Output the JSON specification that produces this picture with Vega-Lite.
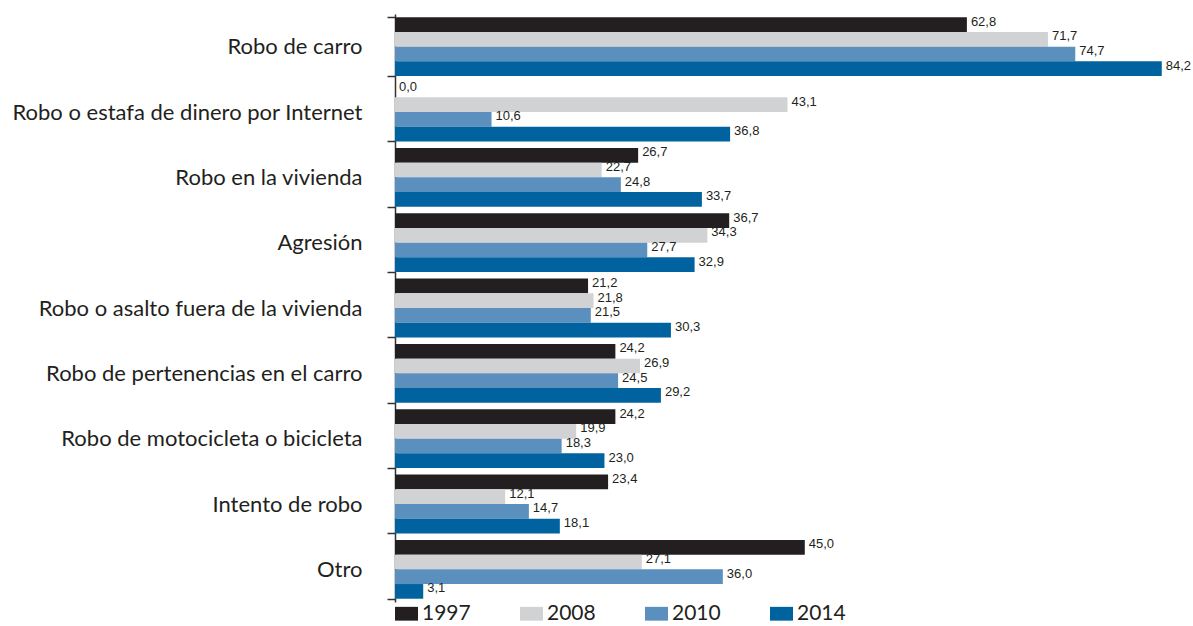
{
  "$schema": "https://vega.github.io/schema/vega-lite/v6.json",
  "width": 795,
  "height": 588,
  "autosize": {"type": "none"},
  "padding": {"left": 395, "top": 14, "right": 3, "bottom": 24},
  "background": "white",
  "config": {
    "view": {"stroke": null},
    "locale": {"number": {"decimal": ",", "thousands": ".", "grouping": [3], "currency": ["", ""]}}
  },
  "data": {
    "values": [
      {"categoria": "Robo de carro", "anio": "1997", "valor": 62.8},
      {"categoria": "Robo de carro", "anio": "2008", "valor": 71.7},
      {"categoria": "Robo de carro", "anio": "2010", "valor": 74.7},
      {"categoria": "Robo de carro", "anio": "2014", "valor": 84.2},
      {"categoria": "Robo o estafa de dinero por Internet", "anio": "1997", "valor": 0.0},
      {"categoria": "Robo o estafa de dinero por Internet", "anio": "2008", "valor": 43.1},
      {"categoria": "Robo o estafa de dinero por Internet", "anio": "2010", "valor": 10.6},
      {"categoria": "Robo o estafa de dinero por Internet", "anio": "2014", "valor": 36.8},
      {"categoria": "Robo en la vivienda", "anio": "1997", "valor": 26.7},
      {"categoria": "Robo en la vivienda", "anio": "2008", "valor": 22.7},
      {"categoria": "Robo en la vivienda", "anio": "2010", "valor": 24.8},
      {"categoria": "Robo en la vivienda", "anio": "2014", "valor": 33.7},
      {"categoria": "Agresión", "anio": "1997", "valor": 36.7},
      {"categoria": "Agresión", "anio": "2008", "valor": 34.3},
      {"categoria": "Agresión", "anio": "2010", "valor": 27.7},
      {"categoria": "Agresión", "anio": "2014", "valor": 32.9},
      {"categoria": "Robo o asalto fuera de la vivienda", "anio": "1997", "valor": 21.2},
      {"categoria": "Robo o asalto fuera de la vivienda", "anio": "2008", "valor": 21.8},
      {"categoria": "Robo o asalto fuera de la vivienda", "anio": "2010", "valor": 21.5},
      {"categoria": "Robo o asalto fuera de la vivienda", "anio": "2014", "valor": 30.3},
      {"categoria": "Robo de pertenencias en el carro", "anio": "1997", "valor": 24.2},
      {"categoria": "Robo de pertenencias en el carro", "anio": "2008", "valor": 26.9},
      {"categoria": "Robo de pertenencias en el carro", "anio": "2010", "valor": 24.5},
      {"categoria": "Robo de pertenencias en el carro", "anio": "2014", "valor": 29.2},
      {"categoria": "Robo de motocicleta o bicicleta", "anio": "1997", "valor": 24.2},
      {"categoria": "Robo de motocicleta o bicicleta", "anio": "2008", "valor": 19.9},
      {"categoria": "Robo de motocicleta o bicicleta", "anio": "2010", "valor": 18.3},
      {"categoria": "Robo de motocicleta o bicicleta", "anio": "2014", "valor": 23.0},
      {"categoria": "Intento de robo", "anio": "1997", "valor": 23.4},
      {"categoria": "Intento de robo", "anio": "2008", "valor": 12.1},
      {"categoria": "Intento de robo", "anio": "2010", "valor": 14.7},
      {"categoria": "Intento de robo", "anio": "2014", "valor": 18.1},
      {"categoria": "Otro", "anio": "1997", "valor": 45.0},
      {"categoria": "Otro", "anio": "2008", "valor": 27.1},
      {"categoria": "Otro", "anio": "2010", "valor": 36.0},
      {"categoria": "Otro", "anio": "2014", "valor": 3.1}
    ]
  },
  "encoding": {
    "y": {
      "field": "categoria",
      "type": "nominal",
      "sort": null,
      "scale": {"paddingInner": 0.1, "paddingOuter": 0.05},
      "axis": {
        "title": null,
        "tickBand": "extent",
        "tickSize": 8,
        "tickColor": "#333333",
        "tickWidth": 1.5,
        "domainColor": "#333333",
        "domainWidth": 1.5,
        "labelFont": "Lato",
        "labelFontSize": 22,
        "labelColor": "#231f20",
        "labelPadding": 25,
        "labelLimit": 400
      }
    },
    "yOffset": {"field": "anio", "type": "nominal", "sort": ["1997", "2008", "2010", "2014"]},
    "x": {
      "field": "valor",
      "type": "quantitative",
      "scale": {"domain": [0, 87.3], "nice": false},
      "axis": null
    }
  },
  "layer": [
    {
      "mark": {"type": "bar"},
      "encoding": {
        "color": {
          "field": "anio",
          "type": "nominal",
          "scale": {
            "domain": ["1997", "2008", "2010", "2014"],
            "range": ["#231f20", "#d1d2d4", "#5b8fbe", "#0063a0"]
          },
          "legend": {
            "title": null,
            "orient": "none",
            "legendX": 0,
            "legendY": 588,
            "direction": "horizontal",
            "columns": 4,
            "columnPadding": 49,
            "symbolType": "M-1,-0.6H1V0.6H-1Z",
            "symbolSize": 529,
            "symbolStrokeWidth": 0,
            "symbolOpacity": 1,
            "labelFont": "Lato",
            "labelFontSize": 21,
            "labelColor": "#231f20",
            "labelOffset": 4
          }
        }
      }
    },
    {
      "mark": {
        "type": "text",
        "align": "left",
        "baseline": "middle",
        "dx": 4,
        "dy": -3,
        "font": "Liberation Sans Narrow, Liberation Sans",
        "fontSize": 13,
        "color": "#231f20"
      },
      "encoding": {
        "text": {"field": "valor", "type": "quantitative", "format": ".1f"}
      }
    }
  ]
}
